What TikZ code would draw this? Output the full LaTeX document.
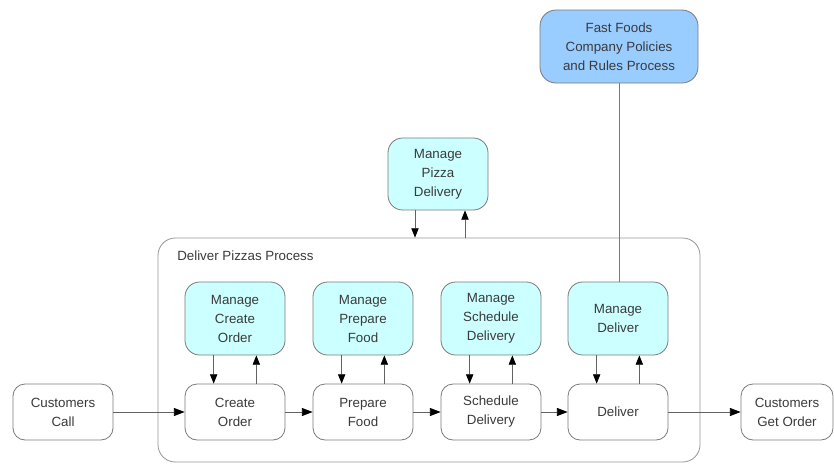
\documentclass[tikz,border=0pt]{standalone}
\usepackage{fontspec}
\setmainfont{Liberation Sans}
\usetikzlibrary{arrows.meta}
\definecolor{mgrfill}{HTML}{CCFFFF}
\definecolor{polfill}{HTML}{99CCFF}
\definecolor{edge}{HTML}{7A7A7A}
\definecolor{txt}{HTML}{3A3A3A}
\begin{document}
\begin{tikzpicture}[x=0.75pt,y=-0.75pt,
  box/.style={draw=edge, line width=0.6pt, align=center, inner sep=0pt,
    font=\fontsize{10}{14.25}\selectfont, text=txt},
  proc/.style={box, fill=white, rounded corners=9pt,
    minimum width=75pt, minimum height=42pt},
  mgr/.style={box, fill=mgrfill, rounded corners=11pt,
    minimum width=75pt, minimum height=54.75pt},
  policy/.style={box, fill=polfill, rounded corners=12pt,
    minimum width=118.5pt, minimum height=54.75pt},
  frame/.style={draw=edge!80, line width=0.6pt, rounded corners=13pt,
    inner sep=0pt, minimum width=406.5pt, minimum height=168pt},
  arr/.style={draw=edge!80!black, line width=0.6pt,
    -{Triangle[length=8pt,width=6pt,color=black]}},
  smallarr/.style={arr, -{Triangle[length=7pt,width=5.5pt,color=black]}},
  link/.style={draw=edge, line width=0.6pt}
]
\useasboundingbox (0,0) rectangle (834,464);

% enclosing process frame and its title
\node[frame] (dpp) at (429,350) {};
\node[anchor=west, inner sep=0pt, font=\fontsize{10}{12}\selectfont, text=txt]
  (dpptitle) at (177,256) {Deliver Pizzas Process};

% upper level processes
\node[policy] (ff) at (619,46.5) {Fast Foods\\Company Policies\\and Rules Process};
\node[mgr, minimum height=54pt] (mpd) at (438,174) {Manage\\Pizza\\Delivery};

% management sub-processes
\node[mgr] (mco) at (235,318.5) {Manage\\Create\\Order};
\node[mgr] (mpf) at (363,318.5) {Manage\\Prepare\\Food};
\node[mgr] (msd) at (491,318.5) {Manage\\Schedule\\Delivery};
\node[mgr] (mdl) at (618,318.5) {Manage\\Deliver};

% main flow
\node[proc] (cc) at (63,412) {Customers\\Call};
\node[proc] (co) at (235,412) {Create\\Order};
\node[proc] (pf) at (363,412) {Prepare\\Food};
\node[proc] (sd) at (491,412) {Schedule\\Delivery};
\node[proc] (dl) at (618,412) {Deliver};
\node[proc, minimum width=69pt] (cg) at (787,412) {Customers\\Get Order};

% flow arrows
\draw[arr] (cc.east) -- (co.west);
\draw[arr] (co.east) -- (pf.west);
\draw[arr] (pf.east) -- (sd.west);
\draw[arr] (sd.east) -- (dl.west);
\draw[arr] (dl.east) -- (cg.west);

% control arrows between managers and processes
\foreach \m/\p in {mco/co, mpf/pf, msd/sd, mdl/dl}{
  \draw[smallarr] ([xshift=-16pt]\m.south) -- ([xshift=-16pt]\p.north);
  \draw[smallarr] ([xshift=16pt]\p.north) -- ([xshift=16pt]\m.south);
}

% pizza delivery manager and the frame
\draw[smallarr] ([xshift=-17.25pt]mpd.south) -- ([xshift=-17.25pt]mpd.south |- dpp.north);
\draw[smallarr] ([xshift=20.25pt]mpd.south |- dpp.north) -- ([xshift=20.25pt]mpd.south);

% policies link
\draw[link] (ff.south) -- (ff.south |- mdl.north);
\end{tikzpicture}
\end{document}
